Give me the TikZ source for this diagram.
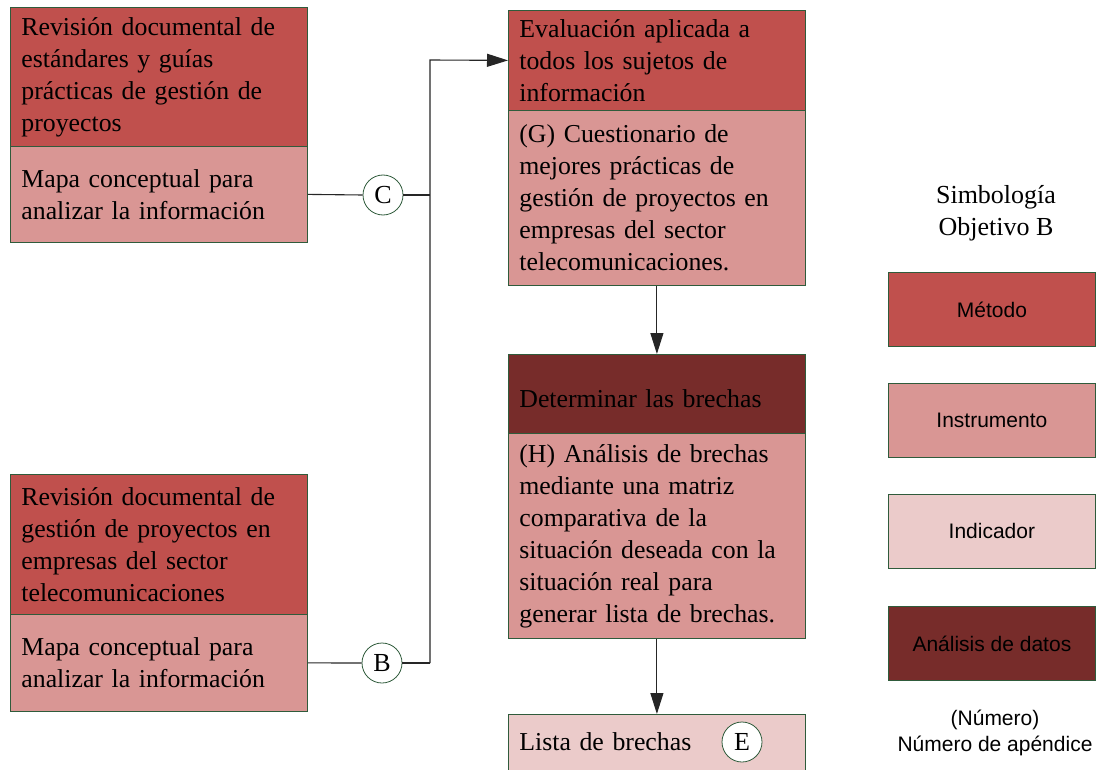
\documentclass[tikz,border=0pt]{standalone}
\usepackage{fontspec}
\setmainfont{Liberation Serif}
\newfontfamily\legendfont{Liberation Sans}
\usetikzlibrary{arrows.meta}

\definecolor{metodo}{HTML}{C0504D}
\definecolor{instrumento}{HTML}{D99694}
\definecolor{indicador}{HTML}{EBCBCA}
\definecolor{analisis}{HTML}{772C2A}
\definecolor{frame}{HTML}{2F5B3B}

% shift a single line vertically without changing its box size
\newcommand{\lowerby}[2]{\raisebox{-#1}[\height][\depth]{#2}}

\begin{document}
\begin{tikzpicture}[x=1pt,y=-1pt,
  sect/.style={draw=frame, line width=0.8pt, anchor=north west,
    inner xsep=11pt, inner ysep=0pt, text width=275pt, align=left,
    font=\fontsize{25.8}{32}\selectfont},
  legbox/.style={draw=frame, line width=0.8pt, anchor=north west,
    minimum width=207pt, minimum height=74pt, inner sep=0pt,
    font=\legendfont\fontsize{21}{25}\selectfont},
  tag/.style={circle, draw=frame, line width=0.8pt, fill=white,
    minimum size=40pt, inner sep=0pt, font=\fontsize{26}{32}\selectfont},
  link/.style={draw=black!85, line width=1.1pt},
  arr/.style={link, -{Triangle[length=21pt,width=13pt]}},
]
\useasboundingbox (0,0) rectangle (1097,770);
\clip (0,0) rectangle (1097,770);

% left column: documentary reviews
\node[sect, fill=metodo, minimum height=139pt] (l1a) at (10,7)
  {Revisión documental de\\estándares y guías\\prácticas de gestión de\\proyectos};
\node[sect, fill=instrumento, minimum height=96pt] (l1b) at (10,146)
  {Mapa conceptual para\\analizar la información};
\node[sect, fill=metodo, minimum height=140pt] (l2a) at (10,474)
  {Revisión documental de\\gestión de proyectos en\\empresas del sector\\telecomunicaciones};
\node[sect, fill=instrumento, minimum height=97pt] (l2b) at (10,614)
  {Mapa conceptual para\\analizar la información};

% middle column: evaluation and gap analysis
\node[sect, fill=metodo, minimum height=100pt] (m1a) at (508,10)
  {Evaluación aplicada a\\todos los sujetos de\\información};
\node[sect, fill=instrumento, minimum height=175pt] (m1b) at (508,110)
  {(G) Cuestionario de\\mejores prácticas de\\gestión de proyectos en\\empresas del sector\\telecomunicaciones.};
\node[sect, fill=analisis, minimum height=79pt] (m2a) at (508,354)
  {\lowerby{5pt}{Determinar las brechas}};
\node[sect, fill=instrumento, minimum height=205pt] (m2b) at (508,433)
  {(H) Análisis de brechas\\mediante una matriz\\comparativa de la\\situación deseada con la\\situación real para\\generar lista de brechas.};
\node[sect, fill=indicador, minimum height=58pt] (m3) at (508,714)
  {\lowerby{-2pt}{Lista de brechas}};
\node[tag] (E) at (742,742) {E};

% appendix tags and connectors
\node[tag] (C) at (383,195) {C};
\node[tag] (B) at (382,663) {B};
\coordinate (jc) at (430,195);
\coordinate (jb) at (430,663);
\coordinate (jt) at (430,60);

\draw[link] (l1b.east) -- (C.west);
\draw[link] (C.east) -- (jc);
\draw[link] (l2b.east) -- (B.west);
\draw[link] (B.east) -- (jb);
\draw[arr] (jb) -- (jt) -- (m1a.west);
\draw[arr] (m1b.south) -- (m2a.north);
\draw[arr] (m2b.south) -- (m3.north);

% legend
\node[align=center, font=\fontsize{26}{32}\selectfont] (ltitle) at (996,213)
  {Simbología\\Objetivo B};
\node[legbox, fill=metodo] (lg1) at (888,272) {Método};
\node[legbox, fill=instrumento] (lg2) at (888,383) {Instrumento};
\node[legbox, fill=indicador] (lg3) at (888,494) {Indicador};
\node[legbox, fill=analisis] (lg4) at (888,606) {Análisis de datos};
\node[align=center, font=\legendfont\fontsize{21}{26}\selectfont] (lnote) at (995,733)
  {(Número)\\Número de apéndice};
\end{tikzpicture}
\end{document}
